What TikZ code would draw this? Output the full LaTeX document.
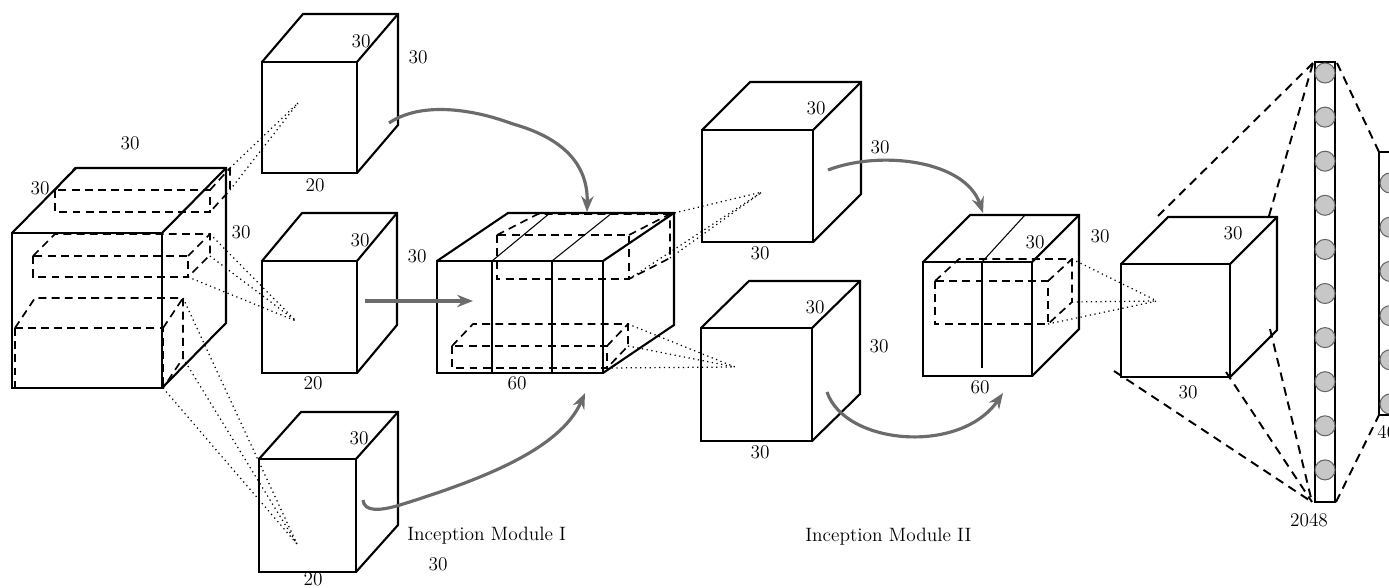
\documentclass[tikz,border=0pt]{standalone}
\usepackage{tikz}
\usetikzlibrary{positioning,calc,arrows.meta}

\definecolor{flowgray}{HTML}{6B6B6B}

% cuboid: [style] x y (front top-left), width, height, depth dx, depth dy
\newcommand{\cuboid}[7][cubeline]{%
  \draw[#1] (#2,#3) rectangle ++(#4,#5);
  \draw[#1] (#2,#3) -- ++(#6,-#7) -- ++(#4,0) -- ++(0,#5) -- ++(-#6,#7);
  \draw[#1] (#2+#4,#3) -- ++(#6,-#7);
}

\begin{document}
\begin{tikzpicture}[
  x=0.02cm, y=-0.02cm,
  >=Stealth,
  cubeline/.style={line width=1.2pt, line join=miter},
  hidden/.style={line width=0.95pt, dash pattern=on 4.5pt off 3pt},
  split/.style={line width=0.6pt},
  conv/.style={dotted, line width=0.7pt},
  flow/.style={line width=1.8pt, draw=flowgray, -{Stealth[length=9pt,width=7pt]}},
  fc/.style={line width=1.1pt, dash pattern=on 5pt off 3.5pt},
  dim/.style={font=\fontsize{11}{13}\selectfont, inner sep=0pt},
  neuron/.style={circle, draw=black!60, fill=black!22, line width=0.6pt, minimum size=4mm, inner sep=0pt}
]
\clip (0,0) rectangle (1389,588);

% Input volume with three receptive fields
\cuboid{12}{233}{150}{155}{64}{65}
\cuboid[hidden]{55}{190}{155}{22}{20}{22}
\cuboid[hidden]{33}{256}{155}{21}{22}{22}
\cuboid[hidden]{15}{328}{148}{60}{20}{30}
\node[dim] (in-w) at (130,143) {30};
\node[dim] (in-d) at (40,188) {30};
\node[dim] (in-h) at (241,232) {30};

% Inception Module I branches
\cuboid{262}{62}{95}{111}{41}{48}
\cuboid{262}{261}{95}{112}{40}{48}
\cuboid{259}{459}{97}{113}{42}{47}
\node[dim] (a-d) at (361,41) {30};
\node[dim] (a-h) at (418,57) {30};
\node[dim] (a-w) at (315,185) {20};
\node[dim] (b-d) at (360,240) {30};
\node[dim] (b-h) at (417,256) {30};
\node[dim] (b-w) at (313,383) {20};
\node[dim] (c-d) at (359,438) {30};
\node[dim] (c-w) at (313,579) {20};
\node[dim] (c-h) at (438,564) {30};

% Receptive fields -> branches
\coordinate (fa) at (298,103);
\coordinate (fb) at (296,321);
\coordinate (fc) at (297,544);
\draw[conv] (230,168) -- (fa);
\draw[conv] (230,190) -- (fa);
\draw[conv] (210,234) -- (fb);
\draw[conv] (210,256) -- (fb);
\draw[conv] (188,277) -- (fb);
\draw[conv] (183,298) -- (fc);
\draw[conv] (183,358) -- (fc);
\draw[conv] (163,388) -- (fc);

% Concatenated output of module I
\cuboid{437}{261}{166}{112}{71}{48}
\draw[split] (492,261) -- (492,373);
\draw[split] (552,261) -- (552,373);
\draw[split] (492,261) -- (550,213);
\draw[split] (552,261) -- (612,213);
\cuboid[hidden]{497}{235}{132}{44}{41}{21}
\cuboid[hidden]{452}{346}{155}{22}{21}{22}
\node[dim] (d-w) at (517,383) {60};

% Merge arrows of module I
\coordinate (a-out) at (389,123);
\coordinate (a-mid) at (513,124);
\coordinate (d-top) at (587,212);
\coordinate (b-out) at (365,301);
\coordinate (d-left) at (473,301);
\coordinate (c-out) at (363,500);
\coordinate (c-mid) at (400,505);
\coordinate (d-bot) at (585,393);
\draw[flow] (a-out) .. controls (420,102) and (470,108) .. (a-mid)
  .. controls (570,140) and (588,170) .. (d-top);
\draw[flow] (b-out) -- (d-left);
\draw[flow] (c-out) .. controls (364,512) and (380,511) .. (c-mid)
  .. controls (480,480) and (560,450) .. (d-bot);

\node[dim, anchor=west] (mod1) at (407,536) {Inception Module I};

% Inception Module II branches
\cuboid{702}{130}{111}{112}{48}{48}
\cuboid{701}{328}{111}{113}{48}{47}
\node[dim] (e-d) at (816,108) {30};
\node[dim] (e-h) at (880,147) {30};
\node[dim] (e-w) at (760,253) {30};
\node[dim] (g-d) at (815,307) {30};
\node[dim] (g-h) at (879,346) {30};
\node[dim] (g-w) at (760,452) {30};

\coordinate (fe) at (762,192);
\coordinate (fg) at (735,367);
\draw[conv] (670,214) -- (fe);
\draw[conv] (670,258) -- (fe);
\draw[conv] (629,279) -- (fe);
\draw[conv] (628,324) -- (fg);
\draw[conv] (628,346) -- (fg);
\draw[conv] (607,368) -- (fg);

% Concatenated output of module II
\cuboid{923}{262}{109}{114}{47}{47}
\draw[split] (982,262) -- (982,368);
\draw[split] (982,262) -- (1025,215);
\cuboid[hidden]{935}{281}{113}{43}{24}{22}
\node[dim] (f-d) at (1035,242) {30};
\node[dim] (f-h) at (1100,236) {30};
\node[dim] (f-w) at (980,387) {60};

\coordinate (e-out) at (828,170);
\coordinate (f-top) at (983,213);
\coordinate (g-out) at (827,392);
\coordinate (f-bot) at (1003,393);
\draw[flow] (e-out) .. controls (880,150) and (965,160) .. (f-top);
\draw[flow] (g-out) .. controls (845,445) and (960,455) .. (f-bot);

\node[dim, anchor=west] (mod2) at (805,537) {Inception Module II};

% Last feature map
\cuboid{1121}{264}{109}{113}{47}{47}
\node[dim] (h-d) at (1233,233) {30};
\node[dim] (h-w) at (1188,392) {30};
\coordinate (fh) at (1157,301);
\draw[conv] (1072,259) -- (fh);
\draw[conv] (1072,302) -- (fh);
\draw[conv] (1048,324) -- (fh);

% Fully connected layers
\draw[cubeline] (1315,62) rectangle (1335,502);
\foreach \i in {0,...,9}
  \node[neuron] (n\i) at (1325,73+44.1*\i) {};
\draw[cubeline] (1379,152) rectangle (1400,415);
\foreach \i in {0,...,5}
  \node[neuron] (m\i) at (1390,183+44.2*\i) {};
\node[dim] (fc1) at (1309,520) {2048};
\node[dim, anchor=west] (fc2) at (1377,432) {4096};

\coordinate (fc1-tl) at (1313,63);
\coordinate (fc1-tr) at (1337,63);
\coordinate (fc1-bl) at (1312,502);
\coordinate (fc1-br) at (1336,502);
\coordinate (fc2-tl) at (1379,152);
\coordinate (fc2-bl) at (1379,415);
\draw[fc] (1158,216) -- (fc1-tl);
\draw[fc] (1269,216) -- (fc1-tl);
\draw[fc] (1114,371) -- (fc1-bl);
\draw[fc] (1226,372) -- (fc1-bl);
\draw[fc] (1270,329) -- (fc1-bl);
\draw[fc] (fc1-tr) -- (fc2-tl);
\draw[fc] (fc1-br) -- (fc2-bl);
\end{tikzpicture}
\end{document}
